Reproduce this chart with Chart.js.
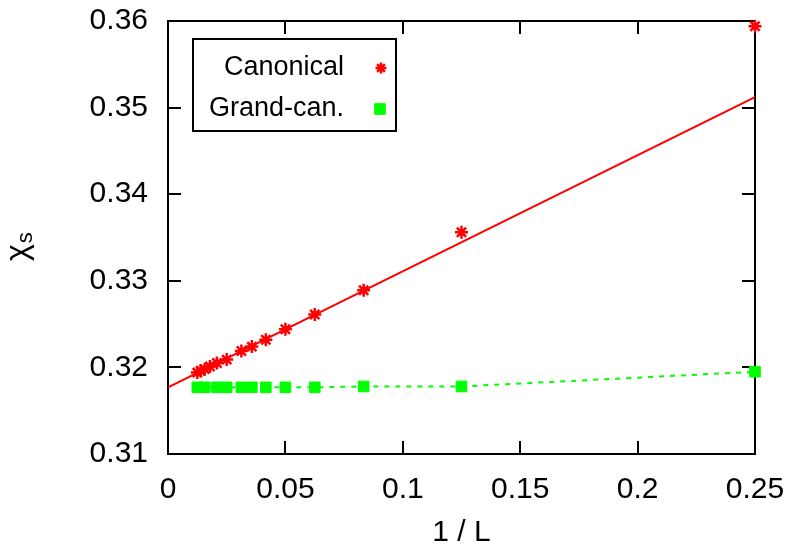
<!DOCTYPE html>
<html>
<head>
<meta charset="utf-8">
<script src="https://cdn.jsdelivr.net/npm/chart.js@4/dist/chart.umd.min.js"></script>
<style>
  html, body { margin: 0; padding: 0; background: #fff; }
  #wrap { width: 792px; height: 547px; }
</style>
</head>
<body>
<div id="wrap"><canvas id="chart" width="792" height="547"></canvas></div>
<script>
// 1/L values and susceptibilities
var canonX = [1/80, 1/72, 1/64, 1/56, 1/48, 1/40, 1/32, 1/28, 1/24, 1/20, 1/16, 1/12, 1/8, 1/4];
var canonY = [0.3194, 0.3196, 0.3198, 0.3201, 0.3205, 0.3209, 0.3219, 0.3224, 0.3232, 0.3244, 0.3261, 0.3289, 0.3356, 0.3594];
var grandX = [1/80, 1/64, 1/48, 1/40, 1/32, 1/28, 1/24, 1/20, 1/16, 1/12, 1/8, 1/4];
var grandY = [0.3177, 0.3177, 0.3177, 0.3177, 0.3177, 0.3177, 0.3177, 0.3177, 0.3177, 0.3178, 0.3178, 0.3195];
// linear fit of the canonical data
var fitX = [0, 0.25];
var fitY = [0.3177, 0.3512];
var xTicks = [0, 0.05, 0.1, 0.15, 0.2, 0.25];
var yTicks = [0.31, 0.32, 0.33, 0.34, 0.35, 0.36];

function pts(xs, ys) {
    return xs.map(function (x, i) { return { x: x, y: ys[i] }; });
}

var RED = '#ff0000';
var GREEN = '#00ff00';
var FONT = '"Liberation Sans", Arial, sans-serif';

function noPad(s) {
    s.paddingTop = 0; s.paddingBottom = 0;
    s.paddingLeft = 0; s.paddingRight = 0;
}

var framePlugin = {
    id: 'frame',
    beforeDatasetsDraw: function (chart) {
        var ctx = chart.ctx, a = chart.chartArea;
        var xs = chart.scales.x, ys = chart.scales.y;
        ctx.save();
        ctx.strokeStyle = '#000';
        ctx.lineWidth = 2;
        ctx.beginPath();
        xTicks.forEach(function (v) {
            var px = Math.round(xs.getPixelForValue(v));
            ctx.moveTo(px, a.bottom); ctx.lineTo(px, a.bottom - 13);
            ctx.moveTo(px, a.top); ctx.lineTo(px, a.top + 13);
        });
        yTicks.forEach(function (v) {
            var py = Math.round(ys.getPixelForValue(v));
            ctx.moveTo(a.left, py); ctx.lineTo(a.left + 13, py);
            ctx.moveTo(a.right, py); ctx.lineTo(a.right - 13, py);
        });
        ctx.stroke();
        ctx.strokeRect(a.left, a.top, a.right - a.left, a.bottom - a.top);

        // y axis title: chi with subscript s
        ctx.fillStyle = '#000';
        ctx.translate(27, 261);
        ctx.rotate(-Math.PI / 2);
        ctx.textBaseline = 'alphabetic';
        ctx.font = '32px ' + FONT;
        ctx.fillText('χ', 0, 0);
        var w = ctx.measureText('χ').width;
        ctx.font = '22px ' + FONT;
        ctx.fillText('s', w + 1, 5);
        ctx.restore();
    },
    afterDraw: function (chart) {
        var ctx = chart.ctx;
        var d0 = chart.data.datasets[0], d1 = chart.data.datasets[1];
        ctx.save();
        ctx.strokeStyle = '#000';
        ctx.lineWidth = 2;
        ctx.strokeRect(193, 39, 203, 92);
        ctx.fillStyle = '#000';
        ctx.font = '27px ' + FONT;
        ctx.textAlign = 'right';
        ctx.textBaseline = 'middle';
        ctx.fillText('Canonical', 344, 68);
        ctx.fillText('Grand-can.', 344, 109);
        ctx.strokeStyle = RED;
        ctx.lineWidth = d0.borderWidth;
        Chart.helpers.drawPoint(ctx, {
            pointStyle: 'star', radius: 5.5, borderWidth: d0.borderWidth, rotation: 0
        }, 381, 68);
        ctx.fillStyle = GREEN;
        ctx.strokeStyle = GREEN;
        ctx.lineWidth = 1;
        Chart.helpers.drawPoint(ctx, {
            pointStyle: 'rect', radius: d1.pointRadius, borderWidth: 1, rotation: 0
        }, 380, 109);
        ctx.restore();
    }
};

new Chart(document.getElementById('chart').getContext('2d'), {
    type: 'scatter',
    data: {
        datasets: [{
            label: 'Canonical',
            data: pts(canonX, canonY),
            showLine: false,
            pointStyle: 'star',
            pointRadius: 6.5,
            borderColor: RED,
            backgroundColor: RED,
            borderWidth: 2.5,
            clip: false,
            order: 1
        }, {
            label: 'Grand-can.',
            data: pts(grandX, grandY),
            showLine: true,
            borderDash: [5, 6],
            borderColor: GREEN,
            backgroundColor: GREEN,
            pointBorderColor: GREEN,
            pointBorderWidth: 1,
            borderWidth: 2,
            pointStyle: 'rect',
            pointRadius: 7.5,
            clip: false,
            order: 2
        }, {
            label: 'fit',
            data: pts(fitX, fitY),
            showLine: true,
            borderColor: RED,
            borderWidth: 2,
            pointRadius: 0,
            order: 3
        }]
    },
    options: {
        responsive: false,
        animation: false,
        devicePixelRatio: 1,
        layout: { padding: { top: 21, right: 37, left: 0, bottom: 0 } },
        plugins: {
            legend: { display: false },
            tooltip: { enabled: false }
        },
        scales: {
            x: {
                type: 'linear',
                min: 0,
                max: 0.25,
                afterFit: function (s) { s.height = 93; noPad(s); },
                afterBuildTicks: function (s) {
                    s.ticks = xTicks.map(function (v) { return { value: v }; });
                },
                grid: { display: false, drawTicks: false },
                border: { display: false },
                ticks: {
                    padding: 18,
                    color: '#000',
                    font: { family: FONT, size: 30 },
                    maxRotation: 0,
                    callback: function (v) { return String(+v.toFixed(2)); }
                },
                title: {
                    display: true,
                    text: '1 / L',
                    color: '#000',
                    font: { family: FONT, size: 30, lineHeight: 1 },
                    padding: { top: 0, bottom: -1 }
                }
            },
            y: {
                type: 'linear',
                min: 0.31,
                max: 0.36,
                afterFit: function (s) { s.width = 168; noPad(s); },
                afterBuildTicks: function (s) {
                    s.ticks = yTicks.map(function (v) { return { value: v }; });
                },
                grid: { display: false, drawTicks: false },
                border: { display: false },
                ticks: {
                    padding: 20,
                    color: '#000',
                    font: { family: FONT, size: 30 },
                    callback: function (v) { return v.toFixed(2); }
                }
            }
        }
    },
    plugins: [framePlugin]
});
</script>
</body>
</html>
